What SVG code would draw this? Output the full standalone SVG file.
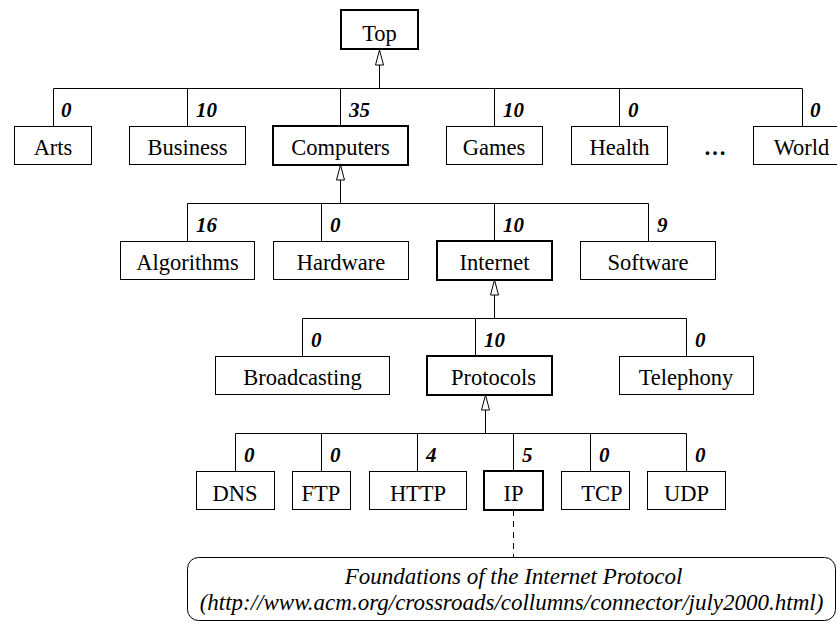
<svg xmlns="http://www.w3.org/2000/svg" width="837" height="623" viewBox="0 0 837 623" font-family="Liberation Serif, Times New Roman, Times, DejaVu Serif, Noto Serif, serif">
<defs>
<style>
.box{fill:#fff;stroke:#000;stroke-width:1}
.thick{fill:#fff;stroke:#000;stroke-width:2}
.t{font-size:22.5px;fill:#000;text-anchor:middle}
.n{font-size:21px;font-weight:bold;font-style:italic;fill:#000}
.note{font-size:23px;font-style:italic;fill:#000;text-anchor:middle}
.c{fill:none;stroke:#000;stroke-width:1}
.up{fill:none;stroke:#000;stroke-width:1;marker-end:url(#tri)}
</style>
<marker id="tri" markerUnits="userSpaceOnUse" markerWidth="17" markerHeight="10" refX="15" refY="4.5" orient="auto" viewBox="-1 -0.5 17 10">
<path d="M0,0.5 L15,4.5 L0,8.5 Z" fill="#fff" stroke="#000" stroke-width="1"/>
</marker>
</defs>

<g id="connectors">
<path class="up" d="M379.5,88.5 V50"/>
<path class="c" d="M53.5,126 V88.5 H802.5 V126 M187.5,88.5 V126 M340.5,88.5 V126 M494.5,88.5 V126 M619.5,88.5 V126"/>
<path class="up" d="M340.5,203.5 V165"/>
<path class="c" d="M187.5,241 V203.5 H648.5 V241 M321.5,203.5 V241 M494.5,203.5 V241"/>
<path class="up" d="M494.5,318.5 V280"/>
<path class="c" d="M302.5,356 V318.5 H686.5 V356 M475.5,318.5 V356"/>
<path class="up" d="M485.5,433.5 V395"/>
<path class="c" d="M235.5,471 V433.5 H686.5 V471 M321.5,433.5 V471 M417.5,433.5 V471 M513.5,433.5 V471 M590.5,433.5 V471"/>
<path class="c" d="M513.5,510 V557.5" stroke-dasharray="6,5"/>
</g>

<g id="labels">
<text class="n" x="61" y="117">0</text>
<text class="n" x="196" y="117">10</text>
<text class="n" x="349" y="117">35</text>
<text class="n" x="503" y="117">10</text>
<text class="n" x="628" y="117">0</text>
<text class="n" x="810" y="117">0</text>
<text class="n" x="196" y="232">16</text>
<text class="n" x="330" y="232">0</text>
<text class="n" x="503" y="232">10</text>
<text class="n" x="657" y="232">9</text>
<text class="n" x="311" y="347">0</text>
<text class="n" x="484" y="347">10</text>
<text class="n" x="695" y="347">0</text>
<text class="n" x="244" y="462">0</text>
<text class="n" x="330" y="462">0</text>
<text class="n" x="426" y="462">4</text>
<text class="n" x="522" y="462">5</text>
<text class="n" x="599" y="462">0</text>
<text class="n" x="695" y="462">0</text>
</g>

<g id="node-top"><rect class="thick" x="341" y="10" width="77" height="39"/><text class="t" x="379.5" y="41">Top</text></g>

<g id="node-arts"><rect class="box" x="14.5" y="126.5" width="77" height="38"/><text class="t" x="53" y="155">Arts</text></g>
<g id="node-business"><rect class="box" x="129.5" y="126.5" width="116" height="38"/><text class="t" x="187.5" y="155">Business</text></g>
<g id="node-computers"><rect class="thick" x="273" y="126" width="135" height="39"/><text class="t" x="340.5" y="155">Computers</text></g>
<g id="node-games"><rect class="box" x="446.5" y="126.5" width="96" height="38"/><text class="t" x="494" y="155">Games</text></g>
<g id="node-health"><rect class="box" x="571.5" y="126.5" width="96" height="38"/><text class="t" x="619.5" y="155">Health</text></g>
<g id="node-ellipsis"><text class="t" x="715" y="155" font-weight="bold">…</text></g>
<g id="node-world"><rect class="box" x="753.5" y="126.5" width="97" height="38"/><text class="t" x="801.5" y="155">World</text></g>

<g id="node-algorithms"><rect class="box" x="120.5" y="241.5" width="134" height="38"/><text class="t" x="187.5" y="270">Algorithms</text></g>
<g id="node-hardware"><rect class="box" x="273.5" y="241.5" width="135" height="38"/><text class="t" x="341" y="270">Hardware</text></g>
<g id="node-internet"><rect class="thick" x="437" y="241" width="115" height="39"/><text class="t" x="494.5" y="270">Internet</text></g>
<g id="node-software"><rect class="box" x="580.5" y="241.5" width="135" height="38"/><text class="t" x="648" y="270">Software</text></g>

<g id="node-broadcasting"><rect class="box" x="215.5" y="356.5" width="174" height="38"/><text class="t" x="302.5" y="385">Broadcasting</text></g>
<g id="node-protocols"><rect class="thick" x="427" y="356" width="125" height="39"/><text class="t" x="493.5" y="385">Protocols</text></g>
<g id="node-telephony"><rect class="box" x="619.5" y="356.5" width="134" height="38"/><text class="t" x="686" y="385">Telephony</text></g>

<g id="node-dns"><rect class="box" x="196.5" y="471.5" width="78" height="38"/><text class="t" x="235" y="500.5">DNS</text></g>
<g id="node-ftp"><rect class="box" x="292.5" y="471.5" width="58" height="38"/><text class="t" x="321" y="500.5">FTP</text></g>
<g id="node-http"><rect class="box" x="369.5" y="471.5" width="97" height="38"/><text class="t" x="418" y="500.5">HTTP</text></g>
<g id="node-ip"><rect class="thick" x="484" y="471" width="59" height="39"/><text class="t" x="513.5" y="500.5">IP</text></g>
<g id="node-tcp"><rect class="box" x="561.5" y="471.5" width="68" height="38"/><text class="t" x="602" y="500.5">TCP</text></g>
<g id="node-udp"><rect class="box" x="647.5" y="471.5" width="78" height="38"/><text class="t" x="686.5" y="500.5">UDP</text></g>

<g id="node-note"><rect class="box" x="187.5" y="557.5" width="648" height="63" rx="11" ry="11"/>
<text class="note" x="513.5" y="584">Foundations of the Internet Protocol</text>
<text class="note" x="511.5" y="610">(http://www.acm.org/crossroads/collumns/connector/july2000.html)</text></g>
</svg>
